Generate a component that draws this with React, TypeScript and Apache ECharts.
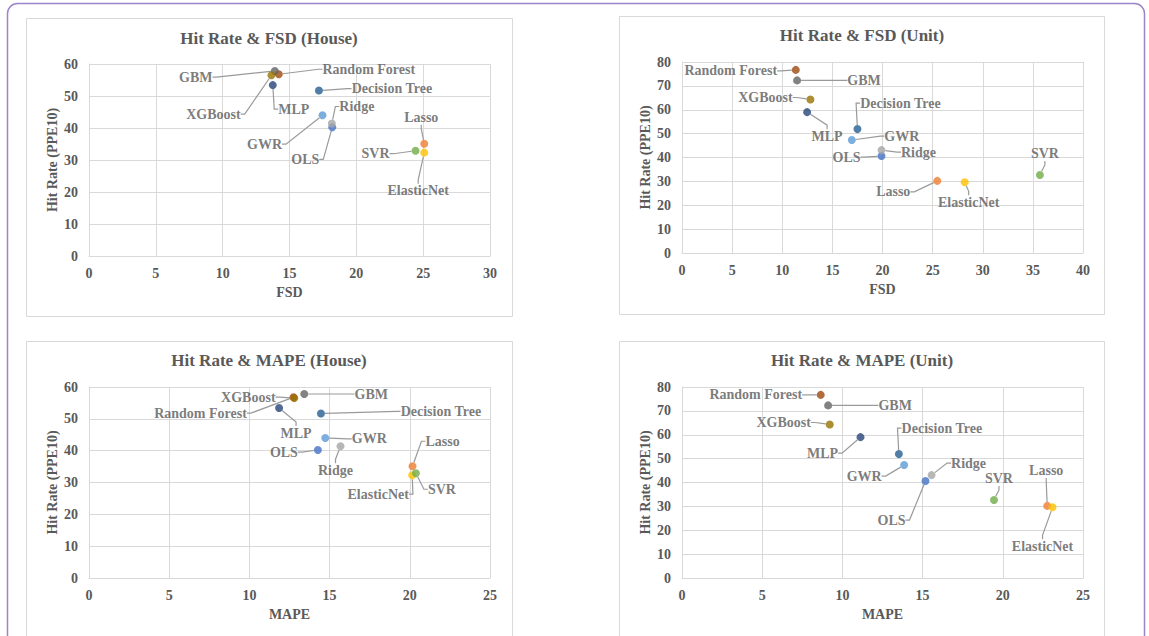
import React, { useEffect, useRef } from "react";
import * as echarts from "echarts";

// ---- data ----
const methods = ["OLS", "Lasso", "Ridge", "ElasticNet", "GWR", "SVR", "MLP", "Random Forest", "GBM", "XGBoost", "Decision Tree"];
const colors = ["#4472C4", "#ED7D31", "#A5A5A5", "#FFC000", "#5B9BD5", "#70AD47", "#264478", "#9E480E", "#636363", "#997300", "#255E91"];

const hitHouse = [40.2, 35.1, 41.4, 32.3, 44.0, 32.9, 53.4, 56.8, 57.8, 56.5, 51.7];
const fsdHouse = [18.2, 25.08, 18.17, 25.08, 17.47, 24.43, 13.75, 14.2, 13.9, 13.65, 17.2];
const mapeHouse = [14.27, 20.17, 15.68, 20.15, 14.73, 20.38, 11.85, 12.75, 13.42, 12.8, 14.46];

const hitUnit = [40.6, 30.2, 43.1, 29.6, 47.3, 32.7, 59.0, 76.7, 72.3, 64.3, 51.9];
const fsdUnit = [19.9, 25.46, 19.9, 28.2, 16.94, 35.7, 12.48, 11.35, 11.48, 12.81, 17.5];
const mapeUnit = [15.18, 22.77, 15.56, 23.1, 13.85, 19.45, 11.13, 8.65, 9.11, 9.21, 13.52];

const xTicksHouseFsd = { max: 30, interval: 5 };
const xTicksUnitFsd = { max: 40, interval: 5 };
const xTicksMape = { max: 25, interval: 5 };

// ---- label offsets (px, label centre relative to point) ----
const offFsdHouse = [[-27, 32], [-3, -26], [25, -17], [-6, 38], [-58, 29], [-40, 3], [21, 24], [90, -5], [-79, 6], [-58, 39], [73, -2]];
const offFsdUnit = [[-35, 1], [-44, 11], [37, 2], [4, 20], [50, -4], [5, -21], [20, 24], [-65, 1], [67, 0], [-45, -2], [43, -26]];
const offMapeHouse = [[-34, 2], [30, -25], [-5, 24], [-34, 19], [44, 1], [26, 16], [17, 25], [-93, 16], [67, 0], [-46, -1], [120, -2]];
const offMapeUnit = [[-34, 39], [-1, -35], [37, -12], [-10, 39], [-40, 11], [5, -21], [-38, 16], [-65, 0], [67, 0], [-46, -2], [43, -26]];

const FONT = "Liberation Serif";
const TXT = "#595959";
const GRIDC = "#D9D9D9";

const panels = [
  { title: "Hit Rate & FSD (House)", xs: fsdHouse, ys: hitHouse, xName: "FSD", xt: xTicksHouseFsd, yMax: 60, off: offFsdHouse,
    grid: { left: 89, top: 64, width: 401, height: 192 }, tpos: [269, 39], box: [26, 18, 486, 298] },
  { title: "Hit Rate & FSD (Unit)", xs: fsdUnit, ys: hitUnit, xName: "FSD", xt: xTicksUnitFsd, yMax: 80, off: offFsdUnit,
    grid: { left: 682, top: 62, width: 401, height: 191 }, tpos: [862, 36], box: [619, 16, 485, 298] },
  { title: "Hit Rate & MAPE (House)", xs: mapeHouse, ys: hitHouse, xName: "MAPE", xt: xTicksMape, yMax: 60, off: offMapeHouse,
    grid: { left: 89, top: 387, width: 401, height: 191 }, tpos: [269, 361], box: [26, 341, 486, 330] },
  { title: "Hit Rate & MAPE (Unit)", xs: mapeUnit, ys: hitUnit, xName: "MAPE", xt: xTicksMape, yMax: 80, off: offMapeUnit,
    grid: { left: 682, top: 387, width: 401, height: 191 }, tpos: [862, 361], box: [619, 341, 485, 330] },
];

export default function App() {
  const ref = useRef<HTMLDivElement>(null);
  useEffect(() => {
    if (!ref.current) return;
    const chart = echarts.init(ref.current, null, { renderer: "svg" });
    const textBase = { fontFamily: FONT, fontWeight: "bold" as const, color: TXT, fontSize: 14 };
    const option: any = {
      animation: false,
      backgroundColor: "#ffffff",
      title: panels.map((p) => ({
        text: p.title,
        left: p.tpos[0],
        top: p.tpos[1] - 9,
        textAlign: "center",
        padding: 0,
        textStyle: { fontFamily: FONT, fontWeight: "bold", color: TXT, fontSize: 17 },
      })),
      graphic: [
        { type: "rect", shape: { x: 7.5, y: 3.5, width: 1137, height: 720, r: 10 }, style: { fill: "none", stroke: "#9c84c9", lineWidth: 1.5 }, silent: true },
        ...panels.map((p) => ({
          type: "rect",
          shape: { x: p.box[0] + 0.5, y: p.box[1] + 0.5, width: p.box[2], height: p.box[3] },
          style: { fill: "none", stroke: GRIDC, lineWidth: 1 },
          silent: true,
        })),
      ],
      grid: panels.map((p) => ({ ...p.grid, containLabel: false })),
      xAxis: panels.map((p, i) => ({
        type: "value",
        gridIndex: i,
        min: 0,
        max: p.xt.max,
        interval: p.xt.interval,
        name: p.xName,
        nameLocation: "middle",
        nameGap: 29,
        nameTextStyle: textBase,
        axisLine: { show: true, lineStyle: { color: GRIDC } },
        axisTick: { show: false },
        axisLabel: { ...textBase, margin: 10 },
        splitLine: { show: true, lineStyle: { color: GRIDC } },
      })),
      yAxis: panels.map((p, i) => ({
        type: "value",
        gridIndex: i,
        min: 0,
        max: p.yMax,
        interval: 10,
        name: "Hit Rate (PPE10)",
        nameLocation: "middle",
        nameGap: 30,
        nameTextStyle: textBase,
        axisLine: { show: true, lineStyle: { color: GRIDC } },
        axisTick: { show: false },
        axisLabel: { ...textBase, margin: 11 },
        splitLine: { show: true, lineStyle: { color: GRIDC } },
      })),
      series: panels.map((p, i) => ({
        type: "scatter",
        xAxisIndex: i,
        yAxisIndex: i,
        symbol: "circle",
        symbolSize: 8,
        data: methods.map((m, j) => ({ name: m, value: [p.xs[j], p.ys[j]], itemStyle: { color: colors[j] } })),
        label: { show: true, formatter: "{b}", position: "inside", ...textBase },
        labelLine: { show: true, length2: 4, lineStyle: { color: "#9A9A9A", width: 1.2 } },
        labelLayout: (params: any) => {
          const o = p.off[params.dataIndex];
          return {
            x: params.rect.x + params.rect.width / 2 + o[0],
            y: params.rect.y + params.rect.height / 2 + o[1],
            align: "center",
            verticalAlign: "middle",
          };
        },
        emphasis: { disabled: true },
      })),
    };
    chart.setOption(option);
    return () => chart.dispose();
  }, []);
  return (
    <div style={{ position: "fixed", left: 0, top: 0, width: 1149, height: 636, background: "#fff" }}>
      <div ref={ref} style={{ width: 1149, height: 636 }} />
    </div>
  );
}
